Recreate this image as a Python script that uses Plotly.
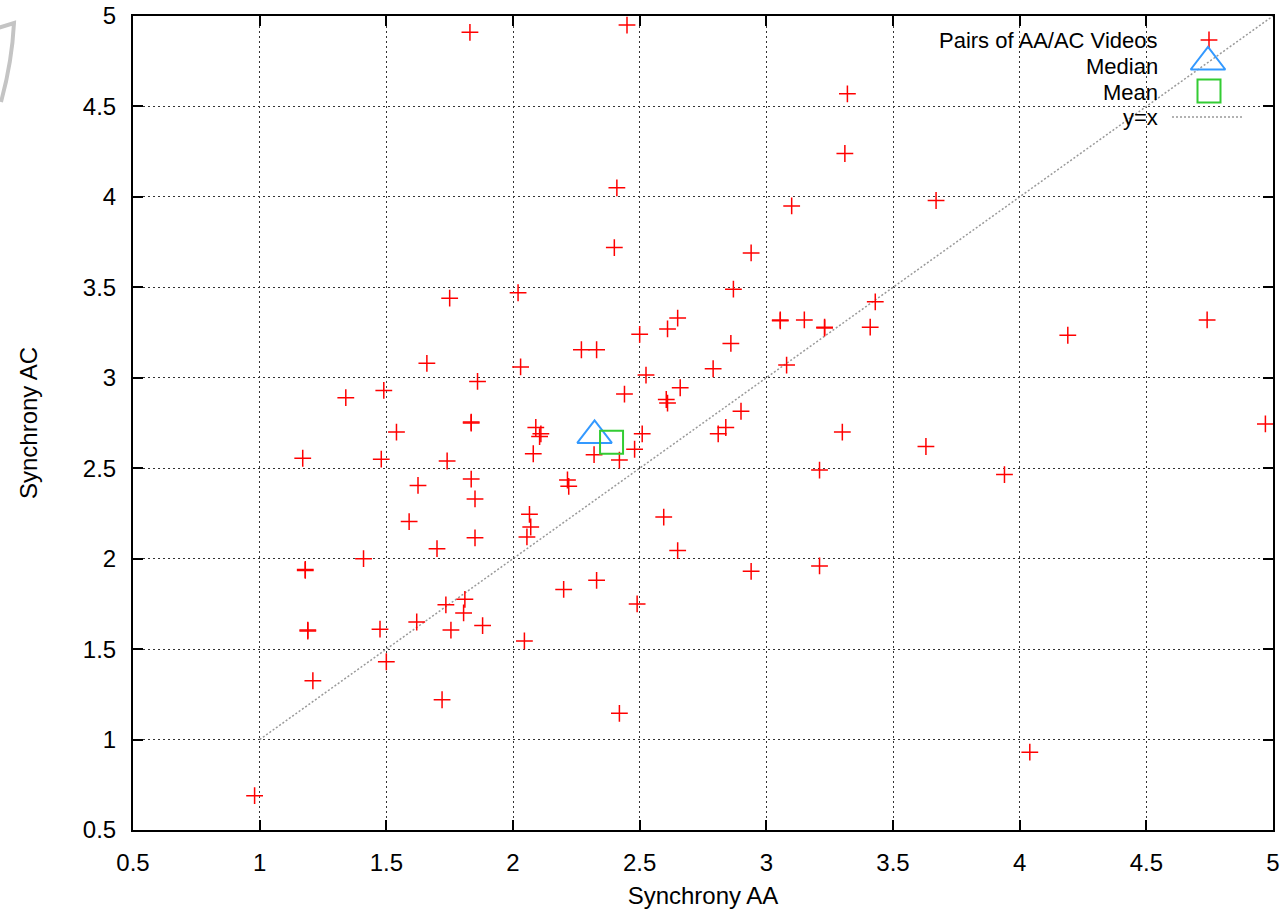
import plotly.graph_objects as go

# ---- data ----
sync_aa = [0.98, 1.83, 2.45, 3.32, 3.31, 2.41, 2.40, 3.10, 2.94, 2.87,
           3.43, 3.67, 4.19, 4.74, 3.055, 3.055, 3.15, 3.23, 3.23, 3.41,
           3.08, 4.97, 3.30, 3.63, 3.21, 3.94, 3.21, 4.04, 1.75, 2.02,
           2.65, 2.61, 2.50, 2.27, 2.33, 2.86, 1.66, 2.03, 2.79, 1.86,
           2.525, 2.66, 2.44, 2.605, 2.61, 2.90, 1.835, 1.835, 1.54, 2.09,
           2.11, 2.105, 2.84, 2.81, 2.51, 2.48, 2.32, 2.42, 2.08, 1.74,
           1.835, 1.625, 2.215, 2.22, 1.85, 2.065, 2.07, 2.055, 2.595, 1.59,
           1.85, 1.70, 2.65, 2.94, 2.33, 2.20, 1.735, 1.81, 1.805, 2.49,
           2.045, 2.42, 1.41, 1.18, 1.18, 1.62, 1.19, 1.19, 1.475, 1.755,
           1.88, 1.50, 1.21, 1.72, 1.34, 1.49, 1.17, 1.48]
sync_ac = [0.69, 4.91, 4.95, 4.57, 4.24, 4.05, 3.72, 3.95, 3.69, 3.49,
           3.42, 3.98, 3.235, 3.32, 3.32, 3.315, 3.32, 3.28, 3.275, 3.28,
           3.07, 2.745, 2.70, 2.62, 2.49, 2.465, 1.96, 0.93, 3.44, 3.47,
           3.33, 3.27, 3.24, 3.155, 3.155, 3.19, 3.08, 3.06, 3.05, 2.98,
           3.015, 2.945, 2.91, 2.88, 2.86, 2.815, 2.755, 2.75, 2.70, 2.725,
           2.69, 2.675, 2.725, 2.69, 2.69, 2.605, 2.575, 2.545, 2.58, 2.54,
           2.44, 2.405, 2.435, 2.40, 2.33, 2.245, 2.175, 2.12, 2.23, 2.205,
           2.115, 2.055, 2.045, 1.93, 1.88, 1.83, 1.745, 1.775, 1.70, 1.75,
           1.545, 1.145, 2.00, 1.94, 1.935, 1.65, 1.605, 1.60, 1.61, 1.605,
           1.63, 1.43, 1.325, 1.22, 2.89, 2.93, 2.555, 2.55]
median_point = [2.322, 2.681]
mean_point = [2.389, 2.643]
diag_vals = [1.0, 5.0]
tick_vals = [0.5, 1, 1.5, 2, 2.5, 3, 3.5, 4, 4.5, 5]
tick_text = ["0.5", "1", "1.5", "2", "2.5", "3", "3.5", "4", "4.5", "5"]
legend_labels = ["Pairs of AA/AC Videos", "Median", "Mean", "y=x"]

# ---- layout geometry (pixels) ----
W, H = 1288, 909
L, R, T, B = 133, 15, 16, 79
PW, PH = W - L - R, H - T - B


def px_x(p):
    return (p - L) / PW


def px_y(p):
    return (H - B - p) / PH


FONT = "Liberation Sans, Arial, Helvetica, sans-serif"
FS = 24
KEY_FS = 22
RED = "#ff0000"
BLUE = "#3399ff"
GREEN = "#33cc33"

fig = go.Figure()

fig.add_trace(go.Scatter(
    x=diag_vals, y=diag_vals, mode="lines",
    line=dict(color="#999999", width=1.5, dash="2px,2px"),
    showlegend=False, hoverinfo="skip"))

fig.add_trace(go.Scatter(
    x=sync_aa, y=sync_ac, mode="markers", name=legend_labels[0],
    marker=dict(symbol="cross-thin", size=12, color=RED,
                line=dict(color=RED, width=1.5)),
    showlegend=False))

fig.add_trace(go.Scatter(
    x=[median_point[0]], y=[median_point[1]], mode="markers", name=legend_labels[1],
    marker=dict(symbol="triangle-up-open", size=30, color=BLUE,
                line=dict(color=BLUE, width=2)),
    showlegend=False))

fig.add_trace(go.Scatter(
    x=[mean_point[0]], y=[mean_point[1]], mode="markers", name=legend_labels[2],
    marker=dict(symbol="square-open", size=23, color=GREEN,
                line=dict(color=GREEN, width=2)),
    showlegend=False))

# ---- custom gnuplot-style key (text right, sample right of text) ----
key_rows_px = [40, 62, 91, 117]
key_sample_x = 1209
fig.add_trace(go.Scatter(
    x=[key_sample_x], y=[key_rows_px[0]], mode="markers", xaxis="x2", yaxis="y2",
    marker=dict(symbol="cross-thin", size=12, color=RED, line=dict(color=RED, width=1.5)),
    showlegend=False, hoverinfo="skip"))
fig.add_trace(go.Scatter(
    x=[key_sample_x - 1], y=[key_rows_px[1]], mode="markers", xaxis="x2", yaxis="y2",
    marker=dict(symbol="triangle-up-open", size=30, color=BLUE, line=dict(color=BLUE, width=2)),
    showlegend=False, hoverinfo="skip"))
fig.add_trace(go.Scatter(
    x=[key_sample_x], y=[key_rows_px[2]], mode="markers", xaxis="x2", yaxis="y2",
    marker=dict(symbol="square-open", size=23, color=GREEN, line=dict(color=GREEN, width=2)),
    showlegend=False, hoverinfo="skip"))
fig.add_trace(go.Scatter(
    x=[1172, 1243], y=[key_rows_px[3], key_rows_px[3]], mode="lines", xaxis="x2", yaxis="y2",
    line=dict(color="#999999", width=1.5, dash="2px,2px"),
    showlegend=False, hoverinfo="skip"))

text_rows_px = [40, 66, 92, 118]
annotations = []
for lab, ypx in zip(legend_labels, text_rows_px):
    annotations.append(dict(
        x=px_x(1159), y=px_y(ypx), xref="paper", yref="paper",
        xanchor="right", yanchor="middle", text=lab, showarrow=False,
        borderpad=0,
        font=dict(family=FONT, size=KEY_FS, color="#000000")))


def pp(xp, yp):
    return f"{px_x(xp):.5f},{px_y(yp):.5f}"


shapes = [
    # opaque key box hiding the grid behind the key
    dict(type="rect", xref="paper", yref="paper",
         x0=px_x(832), x1=1.0, y0=px_y(132), y1=1.0,
         fillcolor="white", line=dict(width=0), layer="between"),
    # light-grey cropped outline in the top-left corner of the reference image
    dict(type="path", xref="paper", yref="paper",
         path=f"M {pp(-2, 28)} L {pp(14, 23)} Q {pp(12, 62)} {pp(1, 102)}",
         line=dict(color="#c4c4c4", width=4), layer="above"),
]

axis_common = dict(
    range=[0.5, 5], tickvals=tick_vals, ticktext=tick_text,
    showline=True, linecolor="#000000", linewidth=2, mirror="allticks",
    ticks="inside", ticklen=10, tickwidth=2, tickcolor="#000000",
    showgrid=True, gridcolor="#333333", gridwidth=1, griddash="2px,3px",
    zeroline=False, tickfont=dict(family=FONT, size=FS, color="#000000"),
    ticklabelstandoff=10, automargin=False,
)

fig.update_layout(
    width=W, height=H,
    margin=dict(l=L, r=R, t=T, b=B, pad=0),
    paper_bgcolor="white", plot_bgcolor="white",
    font=dict(family=FONT, size=FS, color="#000000"),
    xaxis=dict(**axis_common,
               title=dict(text="Synchrony AA", standoff=12,
                          font=dict(family=FONT, size=FS))),
    yaxis=dict(**axis_common,
               title=dict(text="Synchrony AC", standoff=38,
                          font=dict(family=FONT, size=FS))),
    xaxis2=dict(overlaying="x", range=[L, W - R], visible=False, fixedrange=True),
    yaxis2=dict(overlaying="y", range=[H - B, T], visible=False, fixedrange=True),
    annotations=annotations,
    shapes=shapes,
    showlegend=False,
)

fig.write_html("out.html", config={"displayModeBar": False},
               post_script="document.body.style.margin='0px';")
